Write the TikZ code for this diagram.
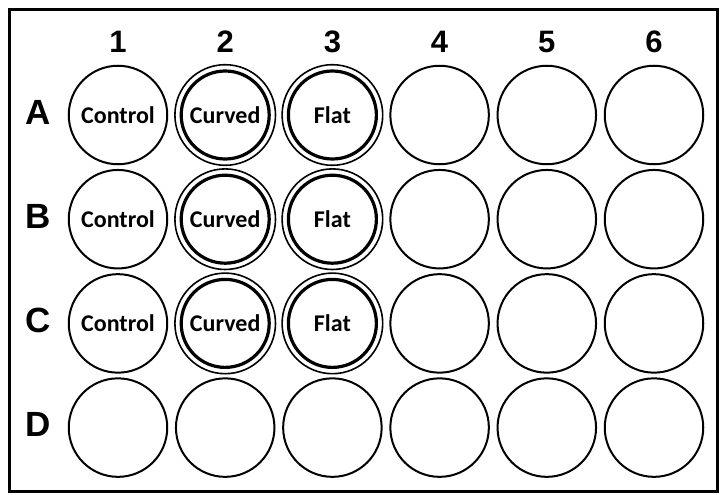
\documentclass[tikz,border=0pt]{standalone}
\usepackage{fontspec}
\setmainfont{Liberation Sans}
\newfontfamily\wellfont{Carlito}
\usetikzlibrary{calc}

\tikzset{
  well/.style={circle, draw, line width=2pt, minimum size=98.5pt, inner sep=0pt,
    font=\wellfont\bfseries\fontsize{24}{24}\selectfont},
  insert/.style={circle, draw, line width=3.2pt, minimum size=88pt, inner sep=0pt,
    font=\wellfont\bfseries\fontsize{24}{24}\selectfont},
  rowlab/.style={font=\bfseries\fontsize{35}{35}\selectfont},
  collab/.style={font=\bfseries\fontsize{31}{31}\selectfont}
}

\begin{document}
\begin{tikzpicture}[x=1pt, y=-1pt]
  \useasboundingbox (0,0) rectangle (723,495);
  % plate outline
  \draw[line width=3pt] (9,9.5) rectangle (717.5,491.5);
  % column numbers
  \foreach \c in {1,...,6}
    \node[collab] (col\c) at ({118+107.2*(\c-1)},41.5) {\c};
  % row letters and wells
  \foreach \r/\R in {1/A,2/B,3/C,4/D} {
    \node[rowlab] (row\R) at (38,{112+104*(\r-1)}) {\R};
    \foreach \c in {1,...,6}
      \coordinate (c-\R\c) at ({118+107.2*(\c-1)},{115+104.2*(\r-1)});
  }
  % treated wells
  \foreach \R in {A,B,C} {
    \node[well] (w-\R1) at (c-\R1) {Control};
    \node[insert] (w-\R2) at (c-\R2) {Curved};
    \node[insert] (w-\R3) at (c-\R3) {Flat};
    \draw[line width=1.6pt] (w-\R2.center) circle (50.3pt);
    \draw[line width=1.6pt] (w-\R3.center) circle (50.3pt);
    \foreach \c in {4,5,6}
      \node[well] (w-\R\c) at (c-\R\c) {};
  }
  % empty row
  \foreach \c in {1,...,6}
    \node[well] (w-D\c) at (c-D\c) {};
\end{tikzpicture}
\end{document}
